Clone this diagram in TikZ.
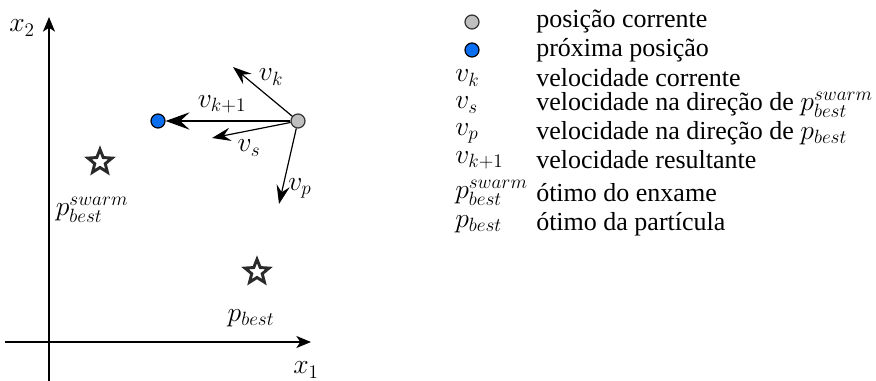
\documentclass[tikz,border=0pt]{standalone}
\usepackage{fontspec}
\setmainfont{Liberation Serif}
\usetikzlibrary{arrows.meta,shapes.geometric,positioning}
\definecolor{curGray}{HTML}{BFBFBF}
\definecolor{nextBlue}{HTML}{0A6EF0}
\definecolor{starGray}{HTML}{2A2A2A}
\tikzset{
axis/.style={-{Stealth[length=11pt,width=9pt,inset=3pt]}, line width=1.2pt},
vel/.style={-{Stealth[length=14pt,width=10pt,inset=5pt]}, line width=0.9pt},
curpos/.style={circle, draw=black!80, fill=curGray, line width=0.9pt, minimum size=10.5pt, inner sep=0pt},
nextpos/.style={circle, draw=black, fill=nextBlue, line width=0.9pt, minimum size=10.5pt, inner sep=0pt},
optstar/.style={star, star points=5, star point ratio=2.3, draw=starGray, line width=2.2pt, minimum size=19pt, inner sep=0pt},
lbl/.style={font=\fontsize{19.5}{22}\selectfont, inner sep=0pt},
legtxt/.style={lbl, anchor=west}
}

\begin{document}
\begin{tikzpicture}[x=0.75pt, y=-0.75pt]
\useasboundingbox (0,0) rectangle (876,381);
% axes
\coordinate (o) at (49,342);
\coordinate (ytop) at (49,17);
\coordinate (ybot) at (49,381);
\coordinate (xleft) at (5,342);
\coordinate (xright) at (311,342);
\draw[axis] (ybot) -- (ytop);
\draw[axis] (xleft) -- (xright);
\node[lbl] (x2) at (22,28) {$x_2$};
\node[lbl] (x1) at (306,370) {$x_1$};

% particle and velocities
\node[curpos] (cur) at (298,121) {};
\node[nextpos] (nxt) at (158,121) {};
\coordinate (vkend) at (233,67);
\coordinate (vsend) at (212,138);
\coordinate (vpend) at (279,204);
\draw[vel] (cur) -- (vkend);
\draw[vel] (cur) -- (vsend);
\draw[vel] (cur) -- (vpend);
\draw[vel, -{Stealth[length=18pt,width=13pt,inset=7pt]}] (cur) -- (nxt);
\node[lbl] (vk) at (271,77) {$v_k$};
\node[lbl] (vk1) at (222,104) {$v_{k+1}$};
\node[lbl] (vs) at (249,148) {$v_s$};
\node[lbl] (vp) at (300,188) {$v_p$};

% optima
\node[optstar] (swarm) at (100,162) {};
\node[lbl] (swarmlbl) at (92,210) {$p_{best}^{swarm}$};
\node[optstar] (pbest) at (257,272) {};
\node[lbl] (pbestlbl) at (251,318) {$p_{best}$};

% legend
\node[curpos] (legcur) at (472,22) {};
\node[nextpos] (legnxt) at (472,50) {};
\foreach \yy/\sym [count=\i] in {78/$v_k$, 105/$v_s$, 133/$v_p$, 160/$v_{k+1}$, 193/$p_{best}^{swarm}$, 224/$p_{best}$}
  \node[legtxt] (legsym\i) at (455,\yy) {\sym};
\foreach \yy/\txt [count=\i] in {22/posição corrente, 50/próxima posição, 78/velocidade corrente, 105/velocidade na direção de $p_{best}^{swarm}$, 133/velocidade na direção de $p_{best}$, 160/velocidade resultante, 193/ótimo do enxame, 224/ótimo da partícula}
  \node[legtxt] (legtxt\i) at (536,\yy) {\txt};
\end{tikzpicture}
\end{document}
